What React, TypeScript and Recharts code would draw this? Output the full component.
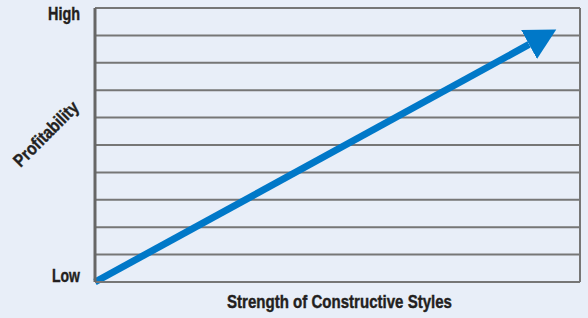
import React from 'react';
import { LineChart, Line, XAxis, YAxis, CartesianGrid, ReferenceLine } from 'recharts';

// arrow runs from the origin to the base of the arrowhead (head drawn as marker)
const arrowX = [0, 89.5];
const arrowY = [0, 8.67];
const yTicks = [0, 1, 2, 3, 4, 5, 6, 7, 8, 9, 10];
const yTickLabels: Record<number, string> = { 0: 'Low', 10: 'High' };
const yTickWidths: Record<number, number> = { 0: 28, 10: 32 };
const xTitle = 'Strength of Constructive Styles';
const yTitle = 'Profitability';

const data = arrowX.map((x, i) => ({ x, y: arrowY[i] }));

// no condensed face installed, so squeeze the text to the reference widths
const FONT = "'Liberation Sans', Arial, sans-serif";
const INK = '#231f20';
const GRID = '#767676';
const BLUE = '#0078c8';

const textStyle = {
  fontFamily: FONT,
  fontWeight: 'bold' as const,
  fontSize: 18,
  fill: INK,
  stroke: INK,
  strokeWidth: 0.4,
  lengthAdjust: 'spacingAndGlyphs' as const,
};

const YTick = (props: any) => {
  const { x, y, payload } = props;
  const label = yTickLabels[payload.value];
  if (!label) return null;
  // High sits just under the top line, Low sits on the bottom line
  const dy = payload.value === 10 ? 12 : 0;
  return (
    <text x={x - 7} y={y + dy} textAnchor="end" textLength={yTickWidths[payload.value]} {...textStyle}>
      {label}
    </text>
  );
};

const YTitle = () => (
  <text x={46} y={140} textAnchor="middle" transform="rotate(-45, 46, 134)" textLength={84} {...textStyle}>
    {yTitle}
  </text>
);

const XTitle = (props: any) => {
  const vb = props.viewBox || {};
  const cx = (vb.x ?? 95) + (vb.width ?? 485) / 2 + 2;
  return (
    <text x={cx} y={308} textAnchor="middle" textLength={225} {...textStyle}>
      {xTitle}
    </text>
  );
};

const App: React.FC = () => {
  return (
    <div style={{ position: 'absolute', left: 0, top: 0, width: 588, height: 318, background: '#e8eef8' }}>
      <LineChart width={588} height={318} data={data} margin={{ top: 8, right: 8, bottom: 0, left: 0 }}>
        <defs>
          <marker
            id="arrowHead"
            markerUnits="userSpaceOnUse"
            markerWidth={34}
            markerHeight={36}
            refX={0}
            refY={16.5}
            orient="auto"
          >
            <path d="M0,0 L31,16.5 L0,33 Z" fill={BLUE} />
          </marker>
        </defs>
        <CartesianGrid vertical={false} stroke={GRID} strokeWidth={2} />
        <XAxis
          type="number"
          dataKey="x"
          domain={[0, 100]}
          tick={false}
          tickLine={false}
          axisLine={{ stroke: GRID, strokeWidth: 2 }}
          height={36}
          label={<XTitle />}
        />
        <YAxis
          type="number"
          domain={[0, 10]}
          ticks={yTicks}
          interval={0}
          width={95}
          tick={<YTick />}
          tickLine={false}
          axisLine={{ stroke: '#666666', strokeWidth: 3 }}
          label={<YTitle />}
        />
        <ReferenceLine x={100} stroke={GRID} strokeWidth={2} />
        <Line
          type="linear"
          dataKey="y"
          stroke={BLUE}
          strokeWidth={7}
          dot={false}
          activeDot={false}
          markerEnd="url(#arrowHead)"
          isAnimationActive={false}
        />
      </LineChart>
    </div>
  );
};

export default App;
